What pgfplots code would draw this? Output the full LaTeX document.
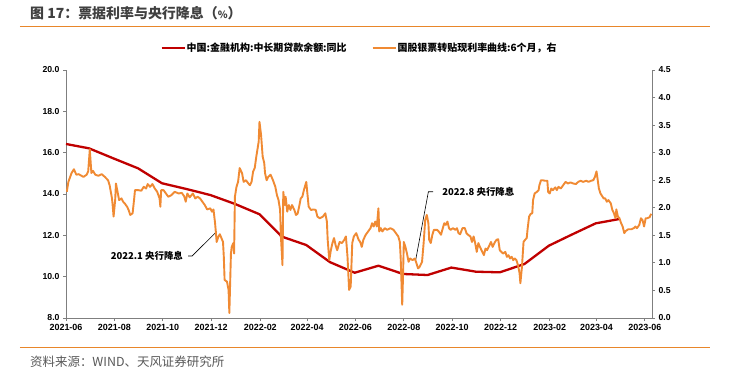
\documentclass[border=0pt]{standalone}
\usepackage{fontspec}
\setmainfont{Liberation Sans}
\newfontfamily\cjk{Noto Sans CJK SC}
\usepackage{pgfplots}
\usepackage{pgfplotstable}
\pgfplotsset{compat=1.18}
\definecolor{cred}{HTML}{C00000}
\definecolor{corange}{HTML}{F08A33}
\definecolor{axgray}{HTML}{7F7F7F}
\definecolor{rulec}{HTML}{E8862A}
\definecolor{titlegray}{HTML}{404040}
\definecolor{srcgray}{HTML}{595959}

% day = days since 2021-06-01
\pgfplotstableread{
day val
0 16.42
29 16.21
60 15.72
91 15.24
121 14.52
152 14.24
182 13.95
213 13.52
244 13.02
272 11.94
303 11.53
333 10.70
364 10.19
394 10.53
425 10.13
456 10.08
486 10.44
517 10.24
547 10.21
578 10.61
609 11.50
637 12.02
668 12.58
698 12.79
}\loanyoy

\pgfplotstableread{
day val
1 2.29
3 2.47
7 2.63
10 2.70
13 2.60
16 2.61
22 2.56
26 2.60
28 2.66
30 3.06
32 2.63
34 2.67
37 2.60
41 2.58
45 2.61
49 2.56
53 2.50
55 2.41
58 2.17
59 2.02
60 1.84
62 2.14
63 2.44
65 2.29
67 2.14
70 2.17
72 2.11
74 2.08
77 2.02
79 1.96
81 1.87
84 1.90
86 2.17
87 2.32
91 2.32
95 2.31
98 2.38
101 2.35
103 2.43
106 2.38
109 2.43
112 2.35
115 2.29
118 2.17
119 2.02
120 2.32
123 2.32
126 2.26
129 2.20
133 2.23
137 2.29
142 2.26
146 2.27
149 2.21
151 2.11
153 2.26
156 2.19
160 2.26
163 2.17
166 2.20
169 2.17
172 2.11
175 2.05
178 1.97
182 1.99
184 1.93
186 1.97
188 1.72
190 1.38
192 1.47
194 1.52
198 1.38
199 1.11
200 0.69
203 0.66
205 0.51
206 0.09
208 1.17
209 1.29
211 1.36
212 1.17
213 2.20
215 2.38
217 2.47
219 2.72
222 2.63
224 2.47
227 2.50
230 2.44
232 2.41
234 2.47
236 2.66
238 2.72
240 2.93
243 3.20
244 3.56
246 3.32
248 2.93
250 2.81
251 2.63
253 2.50
255 2.56
258 2.60
261 2.50
264 2.38
266 2.23
268 2.14
270 1.96
271 1.48
273 0.96
274 2.29
276 2.05
277 2.20
279 1.93
281 2.05
283 1.96
285 2.05
288 1.96
290 1.87
292 1.89
294 2.02
296 2.17
298 2.20
300 2.32
303 2.47
304 2.32
306 2.02
309 1.96
312 1.97
315 1.96
317 1.84
320 1.81
324 1.84
327 1.90
329 1.75
330 1.42
332 1.05
334 1.23
336 1.36
338 1.45
340 1.32
342 1.23
345 1.38
348 1.36
351 1.42
353 1.48
355 1.11
357 0.51
359 0.57
361 1.36
363 1.48
366 1.54
369 1.42
371 1.38
373 1.29
375 1.42
378 1.51
381 1.57
384 1.63
386 1.72
388 1.66
390 1.75
392 1.66
394 1.99
395 1.57
397 1.63
399 1.57
402 1.63
405 1.60
409 1.63
413 1.60
416 1.54
419 1.48
421 1.38
422 1.11
424 0.24
425 0.75
426 1.38
428 1.29
430 1.17
432 1.02
434 1.08
437 1.05
440 1.08
442 0.99
444 0.90
446 0.93
449 1.02
451 1.36
453 1.78
455 1.87
457 1.72
458 1.42
460 1.36
462 1.51
464 1.60
468 1.60
470 1.57
473 1.51
474 1.57
477 1.72
479 1.69
481 1.75
483 1.63
485 1.60
488 1.63
491 1.60
493 1.63
495 1.54
497 1.52
500 1.63
503 1.63
505 1.54
507 1.51
510 1.48
512 1.38
514 1.48
516 1.36
518 1.20
520 1.36
522 1.29
524 1.23
527 1.14
529 1.26
531 1.23
534 1.32
536 1.38
538 1.29
541 1.38
543 1.42
545 1.43
547 1.23
551 1.17
554 1.20
556 1.11
558 1.14
560 1.08
562 1.11
564 1.05
566 1.08
568 1.05
570 0.96
572 0.81
573 0.63
575 0.93
577 1.38
579 1.42
581 1.45
582 1.60
584 1.84
586 1.89
588 1.90
589 2.14
591 2.26
594 2.29
596 2.32
597 2.41
599 2.50
601 2.50
604 2.49
607 2.49
608 2.29
610 2.26
612 2.35
614 2.32
617 2.37
619 2.32
621 2.38
624 2.35
627 2.41
630 2.47
633 2.44
636 2.46
640 2.44
643 2.43
646 2.47
649 2.49
652 2.47
656 2.49
659 2.47
662 2.49
665 2.50
667 2.56
669 2.66
670 2.56
672 2.35
674 2.26
678 2.17
680 2.17
682 2.11
684 2.14
687 2.08
689 1.96
691 1.90
693 1.81
694 1.97
696 1.84
698 1.81
700 1.72
702 1.66
704 1.54
706 1.58
709 1.61
713 1.61
716 1.63
718 1.66
720 1.63
723 1.69
725 1.81
727 1.78
729 1.66
731 1.81
733 1.81
736 1.83
738 1.89
}\billrate

\begin{document}
\begin{tikzpicture}
\path[use as bounding box, fill=white] (-66bp,-62bp) rectangle (664bp,318bp);
% title and rules
\node[anchor=west, inner sep=0pt, text=titlegray] at (-36bp,305bp)
  {\cjk\bfseries\fontsize{14}{16}\selectfont 图 17：票据利率与央行降息（{\fontsize{10}{12}\selectfont\%}）};
\draw[rulec, line width=1bp] (-46bp,291bp) -- (644bp,291bp);
\draw[rulec, line width=1bp] (-46bp,-29bp) -- (644bp,-29bp);
\node[anchor=west, inner sep=0pt, text=srcgray] at (-36bp,-44bp)
  {\cjk\fontsize{12.5}{14}\selectfont 资料来源：WIND、天风证券研究所};

\begin{axis}[
  at={(0,0)}, anchor=south west,
  scale only axis, width=586bp, height=248bp,
  xmin=0, xmax=739, ymin=8, ymax=20,
  axis x line*=bottom, axis y line*=left,
  axis line style={axgray, line width=1bp},
  tick align=outside,
  major tick length=3bp,
  tick style={axgray, line width=0.8bp},
  xtick={0,61,122,183,245,304,365,426,487,548,610,669,730},
  xticklabels={2021-06,2021-08,2021-10,2021-12,2022-02,2022-04,2022-06,2022-08,2022-10,2022-12,2023-02,2023-04,2023-06},
  ytick={8,10,...,20},
  /pgf/number format/assume math mode=true,
  yticklabel style={/pgf/number format/fixed, /pgf/number format/fixed zerofill, /pgf/number format/precision=1},
  ticklabel style={font=\bfseries\fontsize{8.7}{10}\selectfont, text=black},
  xticklabel style={font=\bfseries\fontsize{9}{10}\selectfont},
  clip=false,
]
\addplot[cred, line width=2.3bp, line join=round] table[x=day, y=val] {\loanyoy};
% annotations
\node[font=\cjk\bfseries\fontsize{9.5}{11}\selectfont, text=black] at (axis cs:102,11.0) {2022.1 央行降息};
\draw[black, line width=0.6bp] (axis cs:154,11.0) -- (axis cs:159,11.0) -- (axis cs:190,12.18);
\node[font=\cjk\bfseries\fontsize{9.5}{11}\selectfont, text=black] at (axis cs:520,14.11) {2022.8 央行降息};
\draw[black, line width=0.6bp] (axis cs:463,14.11) -- (axis cs:457,14.11) -- (axis cs:441,10.81);
\end{axis}

\begin{axis}[
  at={(0,0)}, anchor=south west,
  scale only axis, width=586bp, height=248bp,
  xmin=0, xmax=739, ymin=0, ymax=4.5,
  axis x line=none, axis y line*=right,
  axis line style={axgray, line width=1bp},
  tick align=outside,
  major tick length=3bp,
  tick style={axgray, line width=0.8bp},
  ytick={0,0.5,...,4.5},
  /pgf/number format/assume math mode=true,
  yticklabel style={/pgf/number format/fixed, /pgf/number format/fixed zerofill, /pgf/number format/precision=1},
  ticklabel style={font=\bfseries\fontsize{8.7}{10}\selectfont, text=black},
  legend columns=2,
  legend style={at={(0.5,1.089)}, anchor=center, draw=none, fill=none,
    font=\cjk\bfseries\fontsize{10}{12}\selectfont,
    nodes={inner sep=1bp},
    /tikz/every even column/.append style={column sep=24bp}},
  legend cell align=left,
  legend image code/.code={\draw[#1] (0bp,0bp) -- (23bp,0bp);},
]
\addlegendimage{cred, line width=2.3bp}
\addlegendentry{中国:金融机构:中长期贷款余额:同比}
\addplot[corange, line width=1.9bp, line join=round] table[x=day, y=val] {\billrate};
\addlegendentry{国股银票转贴现利率曲线:6个月，右}
\end{axis}
\end{tikzpicture}
\end{document}
